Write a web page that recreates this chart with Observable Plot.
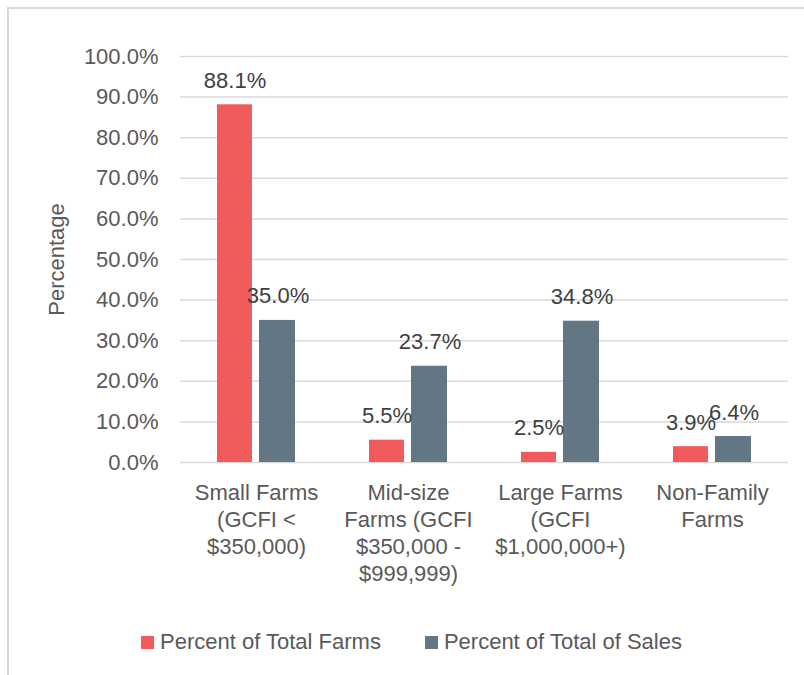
<!DOCTYPE html>
<html>
<head>
<meta charset="utf-8">
<script src="https://cdn.jsdelivr.net/npm/d3@7"></script>
<script src="https://cdn.jsdelivr.net/npm/@observablehq/plot@0.6"></script>
<style>
  html, body { margin: 0; padding: 0; background: #fff; width: 804px; height: 675px; overflow: hidden; }
  body { position: relative; font-family: "Liberation Sans", Arial, sans-serif; color: #595959; }
  #frame { position: absolute; left: 7px; top: 7px; width: 900px; height: 800px;
           border-top: 2px solid #d9d9d9; border-left: 2px solid #d9d9d9; }
  #chart { position: absolute; left: 0; top: 0; }
  #legend { position: absolute; left: 141px; top: 629px; display: flex; align-items: center;
            font-size: 22px; color: #595959; white-space: nowrap; }
  .item { display: flex; align-items: center; }
  .sw { width: 13px; height: 13px; margin-right: 6px; }
</style>
</head>
<body>
<div id="frame"></div>
<div id="chart"></div>
<div id="legend"></div>
<script>
const categories = [
  "Small Farms\n(GCFI <\n$350,000)",
  "Mid-size\nFarms (GCFI\n$350,000 -\n$999,999)",
  "Large Farms\n(GCFI\n$1,000,000+)",
  "Non-Family\nFarms"
];
const seriesNames = ["Percent of Total Farms", "Percent of Total of Sales"];
const percentTotalFarms = [88.1, 5.5, 2.5, 3.9];
const percentTotalSales = [35.0, 23.7, 34.8, 6.4];
const yTicks = [0, 10, 20, 30, 40, 50, 60, 70, 80, 90, 100];
const colors = ["#F15B5B", "#627783"];

const farms = categories.map((c, i) => ({category: c, series: seriesNames[0], value: percentTotalFarms[i]}));
const sales = categories.map((c, i) => ({category: c, series: seriesNames[1], value: percentTotalSales[i]}));
const fmt = v => v.toFixed(1) + "%";

const chart = Plot.plot({
  width: 804,
  height: 600,
  marginLeft: 180,
  marginRight: 16,
  marginTop: 56,
  marginBottom: 138,
  style: {fontFamily: "'Liberation Sans', Arial, sans-serif", fontSize: "22px", color: "#595959", background: "transparent"},
  x: {domain: categories, paddingInner: 0.49, paddingOuter: 0.245, label: null},
  y: {domain: [0, 100], label: null},
  marks: [
    Plot.gridY(yTicks, {stroke: "#d9d9d9", strokeOpacity: 1, strokeWidth: 1.5}),
    Plot.barY(farms, {x: "category", y: "value", fill: colors[0], insetRight: 43}),
    Plot.barY(sales, {x: "category", y: "value", fill: colors[1], insetLeft: 42}),
    Plot.text(farms, {x: "category", y: "value", text: d => fmt(d.value), dx: -21.5, dy: -24, lineAnchor: "middle", fill: "#404040", fontSize: 22}),
    Plot.text(sales, {x: "category", y: "value", text: d => fmt(d.value), dx: 21.5, dy: -24, lineAnchor: "middle", fill: "#404040", fontSize: 22}),
    Plot.axisX({tickSize: 0, tickPadding: 18, lineHeight: 1.23, fontSize: 22, label: null, fill: "#595959"}),
    Plot.axisY({ticks: yTicks, tickFormat: fmt, tickSize: 0, tickPadding: 22, fontSize: 22, fill: "#595959",
                label: "Percentage", labelAnchor: "center", labelOffset: 132, labelArrow: "none"})
  ]
});
document.getElementById("chart").appendChild(chart);

const legend = document.getElementById("legend");
seriesNames.forEach((name, i) => {
  const item = document.createElement("div");
  item.className = "item";
  if (i > 0) item.style.marginLeft = "44px";
  const sw = document.createElement("div");
  sw.className = "sw";
  sw.style.background = colors[i];
  const t = document.createElement("span");
  t.textContent = name;
  item.appendChild(sw);
  item.appendChild(t);
  legend.appendChild(item);
});
</script>
</body>
</html>
